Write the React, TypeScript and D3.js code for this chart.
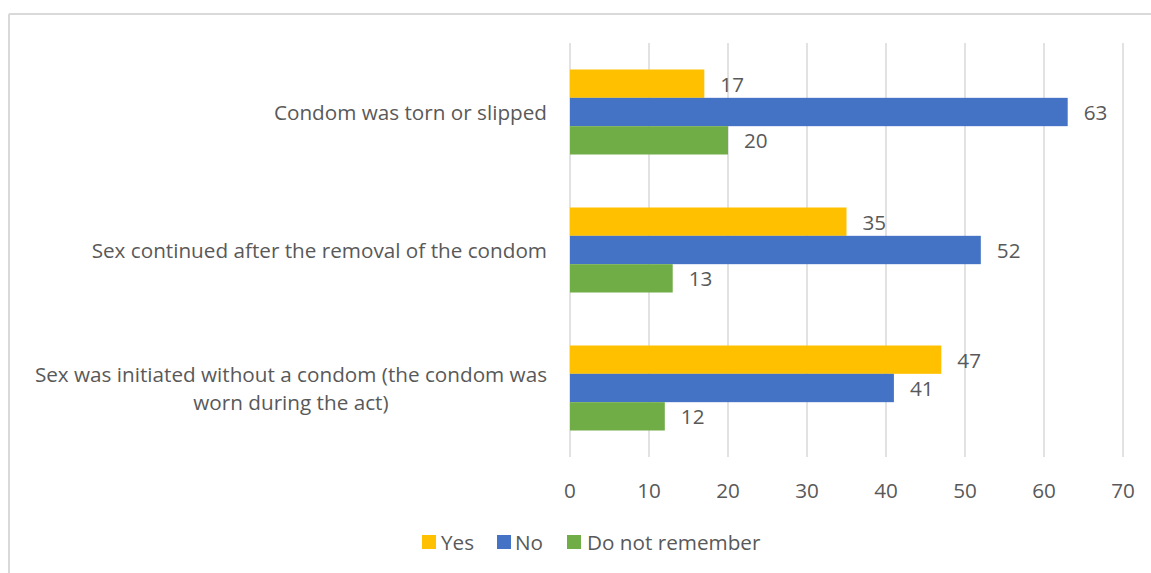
import React from "react";
import * as d3 from "d3";

const categories = [
  "Condom was torn or slipped",
  "Sex continued after the removal of the condom",
  "Sex was initiated without a condom (the condom was worn during the act)",
];
const seriesNames = ["Yes", "No", "Do not remember"];
const yesValues = [17, 35, 47];
const noValues = [63, 52, 41];
const dnrValues = [20, 13, 12];
const xTicks = [0, 10, 20, 30, 40, 50, 60, 70];
const colors = ["#FFC000", "#4472C4", "#70AD47"];

const FONT = "'Open Sans', sans-serif";
const FS = 20.7;
const TEXT = "#595959";

function measure(text: string, size: number) {
  const c = document.createElement("canvas");
  const ctx = c.getContext("2d")!;
  ctx.font = `${size}px 'Open Sans'`;
  return ctx.measureText(text).width;
}

function wrap(text: string, maxW: number, size: number) {
  const words = text.split(" ");
  const lines: string[] = [];
  let cur = "";
  for (const w of words) {
    const t = cur ? cur + " " + w : w;
    if (measure(t, size) > maxW && cur) {
      lines.push(cur);
      cur = w;
    } else cur = t;
  }
  if (cur) lines.push(cur);
  return lines;
}

export default function App() {
  const W = 1151, H = 573;
  const x = d3.scaleLinear().domain([0, 70]).range([570, 1123]);
  const y = d3.scaleBand<string>().domain(categories).range([43, 457]).paddingInner(0.384).paddingOuter(0.192);
  const inner = d3.scaleBand<string>().domain(seriesNames).range([0, y.bandwidth()]);
  const seriesValues = [yesValues, noValues, dnrValues];
  const labelRight = 547;
  const lineH = 28;

  const legendItems = [
    { name: seriesNames[0], sx: 422, tx: 441 },
    { name: seriesNames[1], sx: 497, tx: 515 },
    { name: seriesNames[2], sx: 567, tx: 587 },
  ];

  return (
    <svg width={W} height={H} style={{ position: "absolute", left: 0, top: 0 }} fontFamily={FONT}>
      <rect x={0} y={0} width={W} height={H} fill="#fff" />
      <line x1={9} y1={14} x2={W} y2={14} stroke="#d9d9d9" strokeWidth={2} />
      <line x1={9} y1={14} x2={9} y2={H} stroke="#d9d9d9" strokeWidth={2} />
      {xTicks.map((t) => (
        <g key={t}>
          <line x1={x(t)} x2={x(t)} y1={43} y2={457} stroke="#d9d9d9" strokeWidth={1.5} />
          <text x={x(t)} y={490} textAnchor="middle" dominantBaseline="central" fontSize={FS} fill={TEXT}>
            {t}
          </text>
        </g>
      ))}
      {categories.map((c, ci) => {
        const lines = wrap(c, 540, FS);
        const cy = y(c)! + y.bandwidth() / 2;
        const firstW = measure(lines[0], FS);
        const anchorX = lines.length > 1 ? labelRight - firstW / 2 : labelRight;
        return (
          <g key={c}>
            {lines.map((l, li) => (
              <text
                key={li}
                x={anchorX}
                y={cy + (li - (lines.length - 1) / 2) * lineH}
                textAnchor={lines.length > 1 ? "middle" : "end"}
                dominantBaseline="central"
                fontSize={FS}
                fill={TEXT}
              >
                {l}
              </text>
            ))}
            {seriesNames.map((s, si) => {
              const v = seriesValues[si][ci];
              const by = y(c)! + inner(s)!;
              return (
                <g key={s}>
                  <rect x={x(0)} y={by} width={x(v) - x(0)} height={inner.bandwidth()} fill={colors[si]} />
                  <text
                    x={x(v) + 16}
                    y={by + inner.bandwidth() / 2}
                    dominantBaseline="central"
                    fontSize={FS}
                    fill={TEXT}
                  >
                    {v}
                  </text>
                </g>
              );
            })}
          </g>
        );
      })}
      {legendItems.map((it, i) => (
        <g key={it.name}>
          <rect x={it.sx} y={535} width={14} height={14} fill={colors[i]} />
          <text x={it.tx} y={542} dominantBaseline="central" fontSize={FS} fill={TEXT}>
            {it.name}
          </text>
        </g>
      ))}
    </svg>
  );
}
